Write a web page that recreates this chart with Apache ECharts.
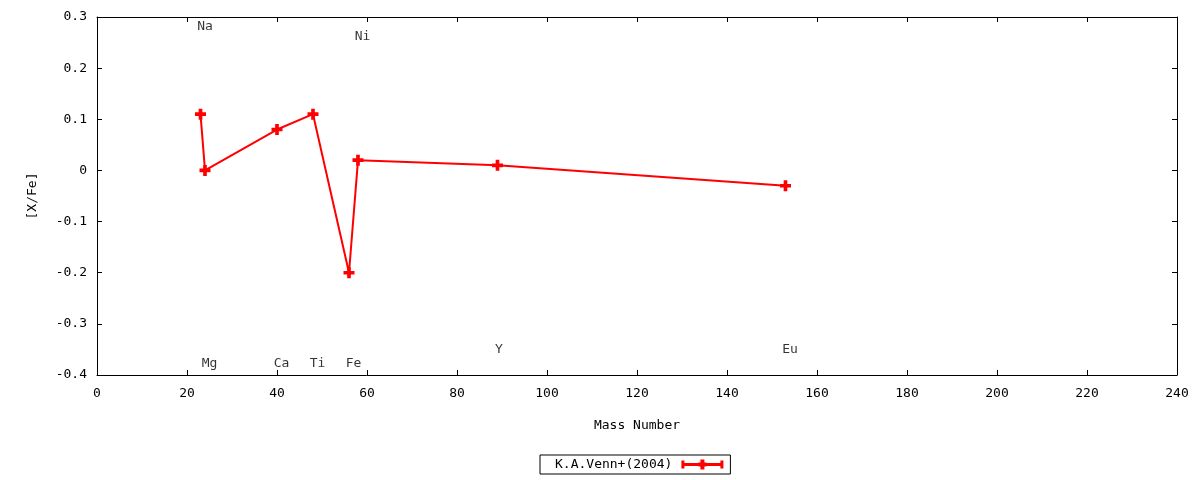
<!DOCTYPE html>
<html>
<head>
<meta charset="utf-8">
<script src="https://cdn.jsdelivr.net/npm/echarts@6/dist/echarts.min.js"></script>
<style>
  html, body { margin: 0; padding: 0; background: #fff; }
  #chart { width: 1200px; height: 480px; }
</style>
</head>
<body>
<div id="chart"></div>
<script>
// abundance pattern, K.A.Venn+(2004)
const massNumber = [23, 24, 40, 48, 56, 58, 89, 153];
const xFe = [0.11, 0.0, 0.08, 0.11, -0.2, 0.02, 0.01, -0.03];

// element labels
const elemNames = ['Na', 'Mg', 'Ca', 'Ti', 'Fe', 'Ni', 'Y', 'Eu'];
const elemLabelX = [24, 25, 41, 49, 57, 59, 89.3, 154];
const elemLabelY = [0.281, -0.377, -0.377, -0.377, -0.377, 0.262, -0.35, -0.35];

const seriesName = 'K.A.Venn+(2004)';
const font = 'DejaVu Sans Mono';
const plusPath = 'path://M3,0H6V3H9V6H6V9H3V6H0V3H3Z';

const chart = echarts.init(document.getElementById('chart'), null, { renderer: 'canvas' });

const axisCommon = {
  axisLine: { show: true, onZero: false, lineStyle: { color: '#000', width: 1 } },
  axisTick: { show: true, inside: true, length: 5, lineStyle: { color: '#000' } },
  splitLine: { show: false },
};

const options = {
  backgroundColor: '#fff',
  animation: false,
  textStyle: { fontFamily: font },
  grid: { left: 97, right: 23, top: 17, bottom: 105 },
  legend: {
    data: [{ name: seriesName, icon: 'path://M0,3.5H42V6.5H0Z M0,1H3V9H0Z M39,1H42V9H39Z M19,0H23V10H19Z M17,3H25V7H17Z' }],
    left: 540,
    top: 455,
    align: 'right',
    itemWidth: 42,
    itemHeight: 10,
    itemGap: 0,
    padding: [3, 7, 3, 15],
    borderColor: '#000',
    borderWidth: 1,
    borderRadius: 0,
    textStyle: { fontFamily: font, fontSize: 13, color: '#000', padding: [0, 4, 0, 0] },
  },
  xAxis: [
    Object.assign({
      type: 'value',
      min: 0,
      max: 240,
      interval: 20,
      name: 'Mass Number',
      nameLocation: 'middle',
      nameGap: 44,
      nameTextStyle: { fontFamily: font, fontSize: 13, color: '#000' },
      axisLabel: { fontFamily: font, fontSize: 13, color: '#000', margin: 12 },
    }, axisCommon),
    Object.assign({
      type: 'value',
      position: 'top',
      min: 0,
      max: 240,
      interval: 20,
      axisLabel: { show: false },
    }, axisCommon),
  ],
  yAxis: [
    Object.assign({
      type: 'value',
      min: -0.4,
      max: 0.3,
      interval: 0.1,
      name: '[X/Fe]',
      nameLocation: 'middle',
      nameGap: 58,
      nameRotate: 90,
      nameTextStyle: { fontFamily: font, fontSize: 13, color: '#000' },
      axisLabel: {
        fontFamily: font, fontSize: 13, color: '#000', margin: 10,
        formatter: v => String(Math.round(v * 10) / 10),
      },
    }, axisCommon),
    Object.assign({
      type: 'value',
      position: 'right',
      min: -0.4,
      max: 0.3,
      interval: 0.1,
      axisLabel: { show: false },
    }, axisCommon),
  ],
  series: [
    {
      name: seriesName,
      type: 'line',
      xAxisIndex: 0,
      yAxisIndex: 0,
      data: massNumber.map((m, i) => [m, xFe[i]]),
      symbol: plusPath,
      symbolSize: 11,
      showAllSymbol: true,
      color: '#ff0000',
      lineStyle: { color: '#ff0000', width: 2 },
      itemStyle: { color: '#ff0000' },
      z: 3,
    },
    {
      name: 'labels',
      type: 'scatter',
      xAxisIndex: 0,
      yAxisIndex: 0,
      silent: true,
      symbolSize: 1,
      itemStyle: { color: 'rgba(0,0,0,0)' },
      data: elemNames.map((n, i) => ({ name: n, value: [elemLabelX[i], elemLabelY[i]] })),
      label: {
        show: true,
        position: 'inside',
        formatter: p => p.name,
        fontFamily: font,
        fontSize: 13,
        color: '#000',
      },
      z: 2,
    },
  ],
};

chart.setOption(options);
</script>
</body>
</html>
